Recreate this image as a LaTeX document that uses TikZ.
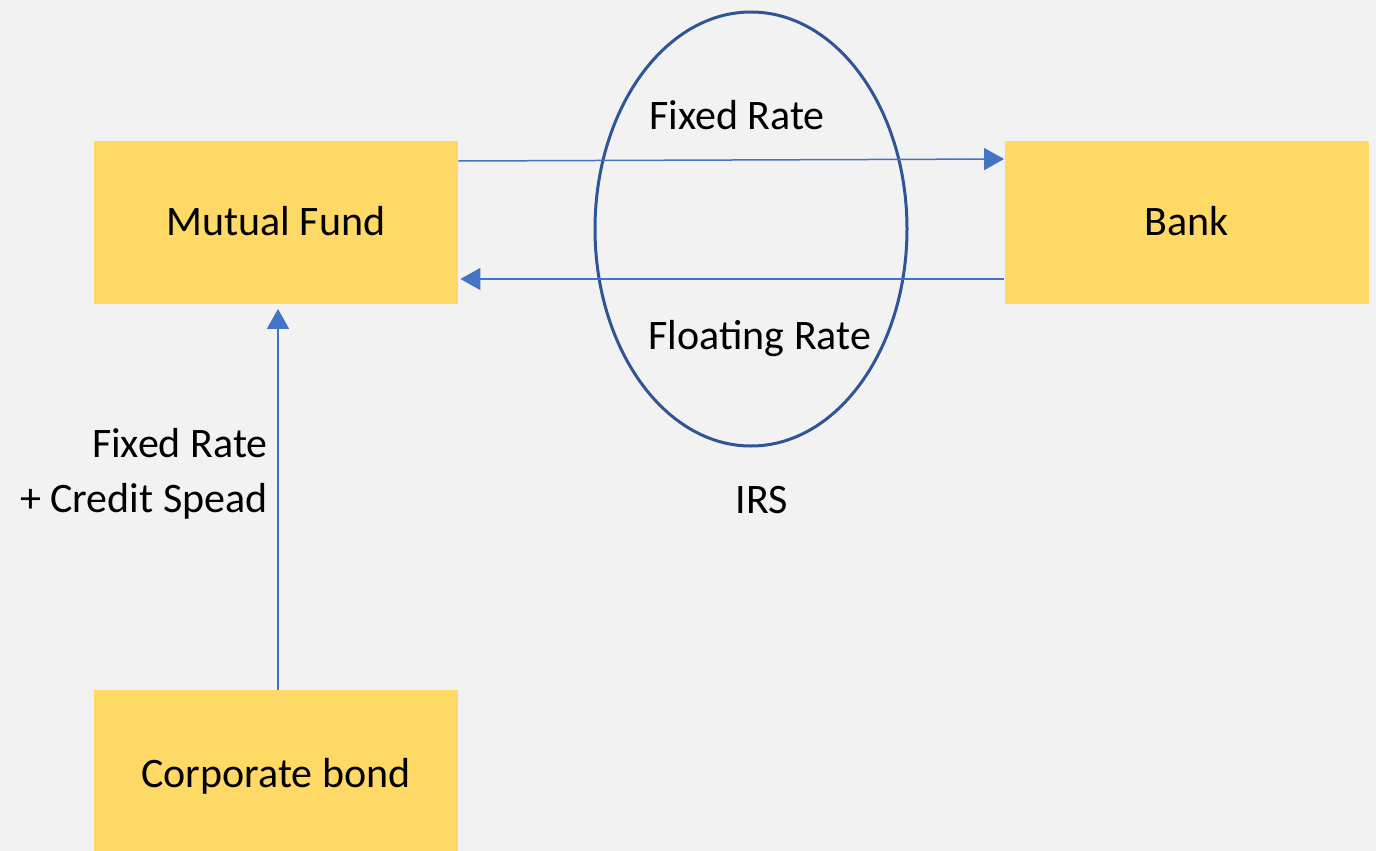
\documentclass[tikz,border=0pt]{standalone}
\usepackage{fontspec}
\setmainfont{Carlito}
\usetikzlibrary{arrows.meta,shapes.geometric}
\definecolor{bg}{HTML}{F2F2F2}
\definecolor{boxfill}{HTML}{FFD966}
\definecolor{flow}{HTML}{4472C4}
\definecolor{ring}{HTML}{2F5597}
\tikzset{
  party/.style={fill=boxfill, draw=none, minimum width=182pt, minimum height=81.5pt, inner sep=0pt,
                text height=13.5pt, text depth=0pt,
                font=\fontsize{21}{25}\selectfont, text=black},
  caption/.style={font=\fontsize{21}{27.5}\selectfont, text=black, inner sep=0pt},
  capline/.style={caption, text height=13.5pt, text depth=0pt},
  flowline/.style={draw=flow, line width=0.75pt, -{Triangle[length=10pt, width=11pt]}},
}
\begin{document}
\begin{tikzpicture}[x=0.5pt, y=-0.5pt]
  \fill[bg] (0,0) rectangle (1376,851);
  \useasboundingbox (0,0) rectangle (1376,851);

  % parties
  \node[party] (mf) at (276,222) {Mutual Fund};
  \node[party] (bank) at (1186.5,222) {Bank};
  \node[party, minimum height=84pt] (cb) at (276,774) {Corporate bond};

  % swap ring
  \node[draw=ring, line width=1.5pt, ellipse, minimum width=156pt, minimum height=217pt, inner sep=0pt] (irs) at (751,229) {};

  % payment flows
  \draw[flowline] (mf.east |- 0,161) -- (bank.west |- 0,159);
  \draw[flowline, shorten >=1pt] (bank.west |- 0,279) -- (mf.east |- 0,279);
  \draw[flowline, shorten >=2.5pt] (cb.north -| 278,0) -- (mf.south -| 278,0);

  % labels
  \node[capline] (fixedtop) at (737,116) {Fixed Rate};
  \node[capline] (floating) at (760,336) {Floating Rate};
  \node[capline] (irslabel) at (762,500) {IRS};
  \node[caption, anchor=base east, align=right] (bondpay) at (268,512) {Fixed Rate\\+ Credit Spead};
\end{tikzpicture}
\end{document}
